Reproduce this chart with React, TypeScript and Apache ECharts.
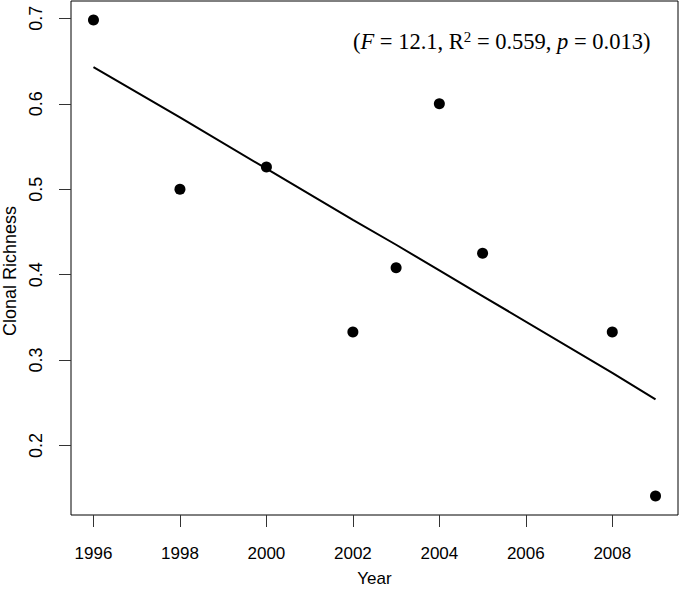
import React, { useEffect, useRef } from "react";
import * as echarts from "echarts";

const years = [1996, 1998, 2000, 2002, 2003, 2004, 2005, 2008, 2009];
const richness = [0.698, 0.5, 0.526, 0.333, 0.408, 0.6, 0.425, 0.333, 0.141];
const fitted = [0.643, 0.584, 0.524, 0.464, 0.435, 0.405, 0.375, 0.285, 0.254];
const xTicks = [1996, 1998, 2000, 2002, 2004, 2006, 2008];
const yTicks = [0.2, 0.3, 0.4, 0.5, 0.6, 0.7];

export default function App() {
  const ref = useRef<HTMLDivElement>(null);
  useEffect(() => {
    const chart = echarts.init(ref.current!, null, { renderer: "svg" });
    const tickStyle = { color: "#333", width: 1 };
    chart.setOption({
      animation: false,
      backgroundColor: "#fff",
      grid: {
        left: 71,
        top: 1,
        right: 2,
        bottom: 75,
        outerBoundsMode: "none",
        containLabel: false,
        show: true,
        borderColor: "#000",
        borderWidth: 1,
        backgroundColor: "transparent",
      },
      xAxis: {
        type: "value",
        min: 1995.48,
        max: 2009.52,
        name: "Year",
        nameLocation: "middle",
        nameGap: 55,
        nameTextStyle: { fontFamily: "Liberation Sans", fontSize: 17, color: "#000" },
        axisLine: { show: false },
        splitLine: { show: false },
        axisTick: { show: true, inside: false, length: 12, lineStyle: tickStyle, customValues: xTicks },
        axisLabel: {
          customValues: xTicks,
          margin: 30,
          fontFamily: "Liberation Sans",
          fontSize: 17,
          color: "#000",
          formatter: (v: number) => String(Math.round(v)),
        },
      },
      yAxis: {
        type: "value",
        min: 0.1187,
        max: 0.7203,
        name: "Clonal Richness",
        nameLocation: "middle",
        nameGap: 52,
        nameRotate: 90,
        nameTextStyle: { fontFamily: "Liberation Sans", fontSize: 18, color: "#000", padding: [0, 26, 0, 0] },
        axisLine: { show: false },
        splitLine: { show: false },
        axisTick: { show: true, inside: false, length: 12, lineStyle: tickStyle, customValues: yTicks },
        axisLabel: {
          customValues: yTicks,
          rotate: 90,
          margin: 26,
          fontFamily: "Liberation Sans",
          fontSize: 18,
          color: "#000",
          formatter: (v: number) => v.toFixed(1),
        },
      },
      series: [
        {
          type: "line",
          data: years.map((y, i) => [y, fitted[i]]),
          showSymbol: false,
          symbol: "none",
          lineStyle: { color: "#000", width: 2 },
          z: 2,
        },
        {
          type: "scatter",
          data: years.map((y, i) => [y, richness[i]]),
          symbol: "circle",
          symbolSize: 11,
          itemStyle: { color: "#000", opacity: 1 },
          z: 3,
        },
      ],
      graphic: [
        {
          type: "text",
          left: 353,
          top: 29,
          style: {
            text: "{n|(}{i|F}{n| = 12.1, R}{s|2}{n| = 0.559, }{i|p}{n| = 0.013)}",
            fill: "#000",
            rich: {
              n: { fontFamily: "Liberation Serif", fontSize: 22.5, fill: "#000" },
              i: { fontFamily: "Liberation Serif", fontSize: 22.5, fontStyle: "italic", fill: "#000" },
              s: { fontFamily: "Liberation Serif", fontSize: 15, fill: "#000", verticalAlign: "top", padding: [0, 0, 9, 0] },
            },
          },
        },
      ],
    });
    return () => chart.dispose();
  }, []);
  return (
    <div
      ref={ref}
      style={{ position: "fixed", left: 0, top: 0, width: 680, height: 590, background: "#fff" }}
    />
  );
}
